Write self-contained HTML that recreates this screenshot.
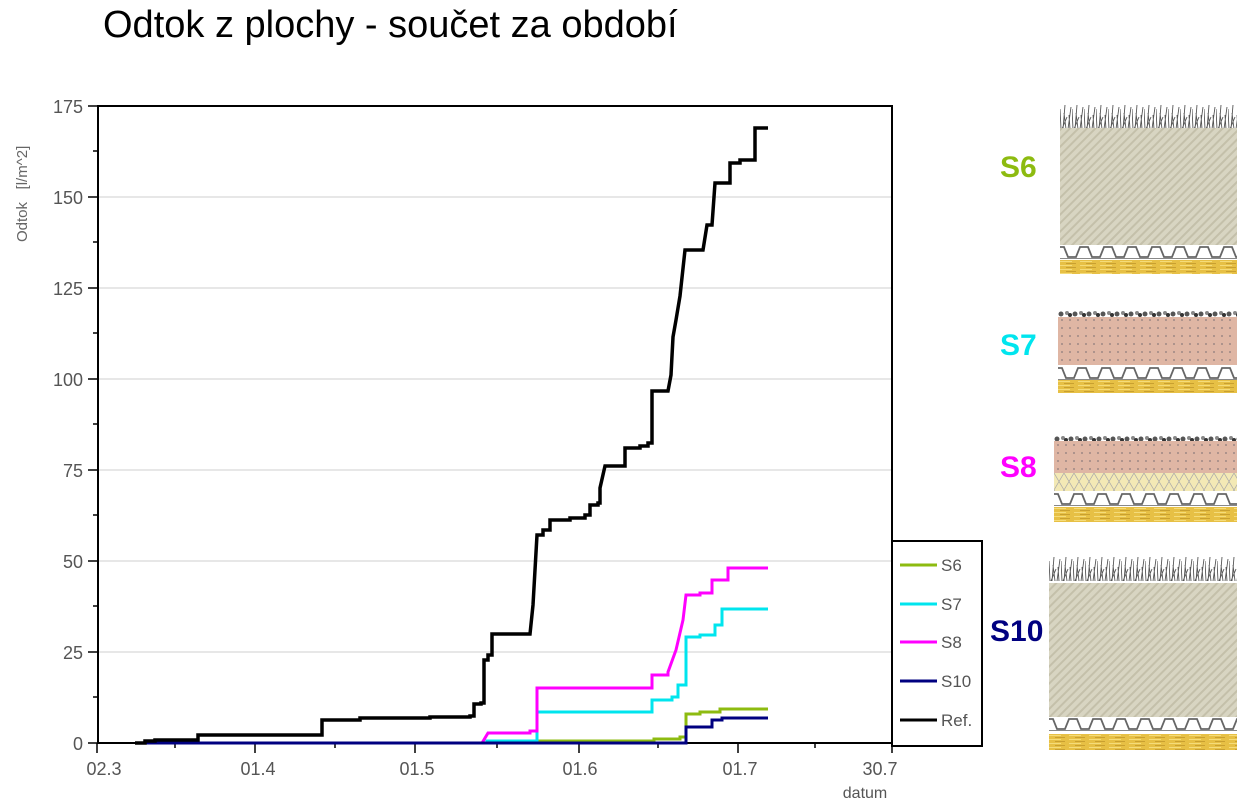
<!DOCTYPE html>
<html><head><meta charset="utf-8"><style>
html,body{margin:0;padding:0;background:#fff;}
svg{display:block;font-family:"Liberation Sans",Arial,sans-serif;}
</style></head><body>
<svg width="1246" height="808" viewBox="0 0 1246 808" xmlns="http://www.w3.org/2000/svg">
<defs>
<pattern id="hatch" width="6" height="6" patternUnits="userSpaceOnUse" patternTransform="rotate(45)">
<rect width="6" height="6" fill="#d8d5c2"/><rect width="2" height="6" fill="#c4c0aa"/></pattern>
<pattern id="dots" width="8" height="8" patternUnits="userSpaceOnUse">
<rect width="8" height="8" fill="#dfb6a4"/><circle cx="4" cy="4" r="0.9" fill="#8a7a7a"/></pattern>
<pattern id="yel" width="20" height="4" patternUnits="userSpaceOnUse">
<rect width="20" height="4" fill="#e7c045"/><rect y="1" width="12" height="1" fill="#f5dc7a"/><rect x="6" y="3" width="10" height="1" fill="#c9a030"/></pattern>
<pattern id="cream" width="10" height="17" patternUnits="userSpaceOnUse">
<rect width="10" height="17" fill="#f3e9b5"/><path d="M0,0 L10,17 M10,0 L0,17" stroke="#aaa" stroke-width="0.7"/></pattern>
<pattern id="drain" width="24" height="14" patternUnits="userSpaceOnUse">
<rect width="24" height="14" fill="#fff"/><path d="M0,2 H4 L8,12 H16 L20,2 H24" fill="none" stroke="#666" stroke-width="1.8"/><rect y="13" width="24" height="1" fill="#888"/></pattern>
<pattern id="grass" width="12" height="26" patternUnits="userSpaceOnUse">
<rect width="12" height="26" fill="#fff"/><path d="M1,26 L0,6 M3,26 L5,2 M6,26 L4,10 M8,26 L11,4 M10,26 L9,12 M2,26 L7,14" stroke="#555" stroke-width="0.9"/></pattern>
<pattern id="rock" width="14" height="10" patternUnits="userSpaceOnUse">
<rect width="14" height="10" fill="#fff"/><circle cx="3" cy="6" r="2.5" fill="#555"/><circle cx="9" cy="5" r="2" fill="#888"/><circle cx="12" cy="7" r="2" fill="#333"/></pattern>
</defs>

<text x="103" y="37" font-size="38" fill="#000">Odtok z plochy - součet za období</text>

<!-- grid -->
<g stroke="#cfcfcf" stroke-width="1">
<line x1="98" y1="197" x2="892" y2="197"/><line x1="98" y1="288" x2="892" y2="288"/>
<line x1="98" y1="379" x2="892" y2="379"/><line x1="98" y1="470" x2="892" y2="470"/>
<line x1="98" y1="561" x2="892" y2="561"/><line x1="98" y1="652" x2="892" y2="652"/>
</g>
<rect x="98" y="106" width="794" height="637" fill="none" stroke="#000" stroke-width="2"/>
<g stroke="#000" stroke-width="1.5">
<line x1="88" y1="106" x2="98" y2="106"/><line x1="88" y1="197" x2="98" y2="197"/><line x1="88" y1="288" x2="98" y2="288"/>
<line x1="88" y1="379" x2="98" y2="379"/><line x1="88" y1="470" x2="98" y2="470"/><line x1="88" y1="561" x2="98" y2="561"/>
<line x1="88" y1="652" x2="98" y2="652"/><line x1="88" y1="743" x2="98" y2="743"/>
<line x1="93" y1="151" x2="98" y2="151"/><line x1="93" y1="242" x2="98" y2="242"/><line x1="93" y1="333" x2="98" y2="333"/>
<line x1="93" y1="424" x2="98" y2="424"/><line x1="93" y1="515" x2="98" y2="515"/><line x1="93" y1="606" x2="98" y2="606"/><line x1="93" y1="697" x2="98" y2="697"/>
<line x1="97" y1="743" x2="97" y2="753"/><line x1="255" y1="743" x2="255" y2="753"/><line x1="415" y1="743" x2="415" y2="753"/>
<line x1="579" y1="743" x2="579" y2="753"/><line x1="738" y1="743" x2="738" y2="753"/><line x1="892" y1="743" x2="892" y2="753"/>
<line x1="175" y1="743" x2="175" y2="748"/><line x1="335" y1="743" x2="335" y2="748"/><line x1="497" y1="743" x2="497" y2="748"/>
<line x1="658" y1="743" x2="658" y2="748"/><line x1="815" y1="743" x2="815" y2="748"/>
</g>
<g font-size="18" fill="#555" text-anchor="end">
<text x="83" y="113">175</text><text x="83" y="204">150</text><text x="83" y="295">125</text><text x="83" y="386">100</text>
<text x="83" y="477">75</text><text x="83" y="568">50</text><text x="83" y="659">25</text><text x="83" y="750">0</text>
</g>
<g font-size="18" fill="#555" text-anchor="middle">
<text x="104" y="775">02.3</text><text x="258" y="775">01.4</text><text x="417" y="775">01.5</text>
<text x="580" y="775">01.6</text><text x="740" y="775">01.7</text><text x="880" y="775">30.7</text>
</g>
<text x="865" y="798" font-size="16" fill="#555" text-anchor="middle">datum</text>
<text transform="translate(27,242) rotate(-90)" font-size="15" fill="#666" xml:space="preserve">Odtok   [l/m^2]</text>

<g fill="none" stroke-width="3" stroke-linejoin="miter">
<path stroke="#8dbb10" d="M135,743 H537 V741 H654 V739 H680 V737 H686 V714 H700 V712 H720 V709 H768"/>
<path stroke="#00e5ee" d="M135,743 H487 V741 H537 V712 H652 V700 H672 V697 H678 V685 H686 V637 H700 V635 H715 V625 H722 V609 H768"/>
<path stroke="#ff00ff" d="M135,743 H482 L488,733 H530 V731 H537 V688 H652 V675 H668 V672 L676,650 L683,620 L686,595 H700 V593 H712 V580 H728 V568 H768"/>
<path stroke="#000080" d="M135,743 H686 V727 H712 V720 H722 V718 H768"/>
<path stroke="#000" stroke-width="3.5" d="M135,743 H145 V741 H155 V740 H198 V735 H322 V720 H360 V718 H430 V717 H470 V716 H474 V704 H481 V703 H484 V660 H488 V655 H492 V634 H530 L533,605 L535,570 L537,535 H543 V530 H550 V520 H570 V518 H585 V515 H590 V505 H598 V503 H600 V488 L605,466 H625 V448 H640 V446 H648 V443 H652 V391 H668 L671,375 L673,337 L676,320 L680,296 L685,250 H703 L707,225 H712 L715,183 H730 V163 H740 V160 H755 V128 H768"/>
</g>

<rect x="892" y="541" width="90" height="205" fill="#fff" stroke="#000" stroke-width="2"/>
<g stroke-width="3">
<line x1="900" y1="565" x2="937" y2="565" stroke="#8dbb10"/>
<line x1="900" y1="604" x2="937" y2="604" stroke="#00e5ee"/>
<line x1="900" y1="642" x2="937" y2="642" stroke="#ff00ff"/>
<line x1="900" y1="681" x2="937" y2="681" stroke="#000080"/>
<line x1="900" y1="720" x2="937" y2="720" stroke="#000"/>
</g>
<g font-size="17" fill="#555">
<text x="941" y="571">S6</text><text x="941" y="610">S7</text><text x="941" y="648">S8</text>
<text x="941" y="687">S10</text><text x="941" y="726">Ref.</text>
</g>

<g font-size="30" font-weight="bold">
<text x="1000" y="177" fill="#8dbb10">S6</text>
<text x="1000" y="355" fill="#00e5ee">S7</text>
<text x="1000" y="477" fill="#ff00ff">S8</text>
<text x="990" y="641" fill="#000080">S10</text>
</g>

<g transform="translate(1060,103)">
<rect width="177" height="25" fill="url(#grass)"/>
<rect y="25" width="177" height="117" fill="url(#hatch)"/>
<g transform="translate(0,142)"><rect width="177" height="14" fill="url(#drain)"/></g>
<g transform="translate(0,157)"><rect width="177" height="14" fill="url(#yel)"/></g>
</g>
<g transform="translate(1058,308)">
<rect width="179" height="9" fill="url(#rock)"/>
<rect y="9" width="179" height="48" fill="url(#dots)"/>
<g transform="translate(0,58)"><rect width="179" height="14" fill="url(#drain)"/></g>
<g transform="translate(0,72)"><rect width="179" height="13" fill="url(#yel)"/></g>
</g>
<g transform="translate(1054,433)">
<rect width="183" height="8" fill="url(#rock)"/>
<rect y="8" width="183" height="32" fill="url(#dots)"/>
<g transform="translate(0,40)"><rect width="183" height="18" fill="url(#cream)"/></g>
<g transform="translate(0,59)"><rect width="183" height="14" fill="url(#drain)"/></g>
<g transform="translate(0,74)"><rect width="183" height="15" fill="url(#yel)"/></g>
</g>
<g transform="translate(1049,555)">
<rect width="188" height="28" fill="url(#grass)"/>
<rect y="28" width="188" height="134" fill="url(#hatch)"/>
<g transform="translate(0,162)"><rect width="188" height="15" fill="url(#drain)"/></g>
<g transform="translate(0,179)"><rect width="188" height="16" fill="url(#yel)"/></g>
</g>
</svg>
</body></html>
